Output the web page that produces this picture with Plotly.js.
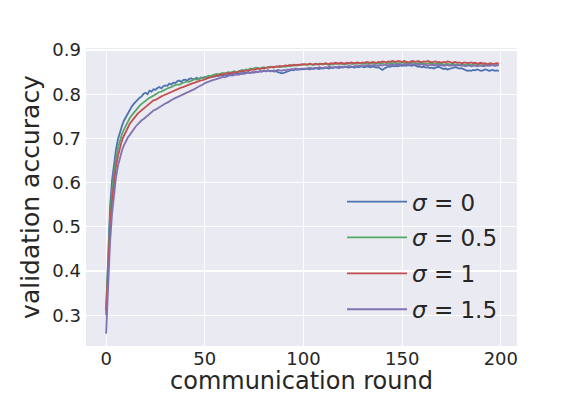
<!DOCTYPE html>
<html>
<head>
<meta charset="utf-8">
<script src="https://cdn.plot.ly/plotly-3.0.1.min.js"></script>
<style>
  body { margin: 0; background: #fff; }
  #chart { width: 576px; height: 396px; }
</style>
</head>
<body>
<div id="chart"></div>
<script>
// validation accuracy per communication round (rounds 0..199)
var seriesNames = ['<i>σ</i> = 0', '<i>σ</i> = 0.5', '<i>σ</i> = 1', '<i>σ</i> = 1.5'];
var seriesColors = ['#4C72B0', '#55A868', '#C44E52', '#8172B2'];

var accSigma0 = [
  0.310, 0.450, 0.545, 0.605, 0.645, 0.675, 0.698, 0.715, 0.728, 0.740,
  0.748, 0.757, 0.766, 0.772, 0.778, 0.783, 0.786, 0.792, 0.795, 0.801,
  0.803, 0.800, 0.808, 0.806, 0.811, 0.810, 0.814, 0.816, 0.813, 0.818,
  0.820, 0.819, 0.824, 0.822, 0.826, 0.825, 0.829, 0.831, 0.828, 0.832,
  0.833, 0.831, 0.834, 0.836, 0.833, 0.835, 0.837, 0.834, 0.838, 0.837,
  0.839, 0.838, 0.840, 0.839, 0.841, 0.840, 0.842, 0.841, 0.843, 0.842,
  0.844, 0.842, 0.845, 0.843, 0.846, 0.845, 0.847, 0.846, 0.848, 0.846,
  0.849, 0.848, 0.850, 0.848, 0.850, 0.849, 0.851, 0.850, 0.852, 0.851,
  0.853, 0.852, 0.854, 0.852, 0.853, 0.851, 0.852, 0.850, 0.848, 0.847,
  0.848, 0.850, 0.852, 0.854, 0.855, 0.854, 0.856, 0.855, 0.857, 0.856,
  0.856, 0.857, 0.858, 0.856, 0.858, 0.857, 0.859, 0.858, 0.857, 0.859,
  0.858, 0.860, 0.859, 0.858, 0.860, 0.859, 0.861, 0.860, 0.859, 0.861,
  0.860, 0.862, 0.861, 0.860, 0.862, 0.861, 0.860, 0.862, 0.861, 0.863,
  0.862, 0.861, 0.863, 0.862, 0.861, 0.863, 0.862, 0.860, 0.861, 0.857,
  0.855, 0.858, 0.861, 0.863, 0.862, 0.864, 0.863, 0.864, 0.863, 0.865,
  0.864, 0.865, 0.864, 0.866, 0.865, 0.864, 0.866, 0.864, 0.862, 0.863,
  0.861, 0.862, 0.860, 0.861, 0.859, 0.860, 0.858, 0.860, 0.862, 0.861,
  0.859, 0.857, 0.858, 0.856, 0.857, 0.859, 0.860, 0.861, 0.860, 0.858,
  0.859, 0.857, 0.855, 0.853, 0.854, 0.853, 0.855, 0.854, 0.856, 0.855,
  0.853, 0.854, 0.856, 0.855, 0.853, 0.854, 0.855, 0.853, 0.854, 0.853
];

var accSigma05 = [
  0.315, 0.430, 0.520, 0.580, 0.625, 0.655, 0.678, 0.696, 0.710, 0.720,
  0.730, 0.738, 0.746, 0.752, 0.758, 0.764, 0.768, 0.774, 0.778, 0.782,
  0.786, 0.788, 0.792, 0.794, 0.797, 0.800, 0.802, 0.805, 0.806, 0.809,
  0.811, 0.813, 0.815, 0.816, 0.819, 0.820, 0.822, 0.821, 0.824, 0.826,
  0.827, 0.829, 0.828, 0.831, 0.832, 0.834, 0.833, 0.835, 0.837, 0.836,
  0.839, 0.840, 0.842, 0.841, 0.843, 0.844, 0.846, 0.845, 0.847, 0.848,
  0.847, 0.849, 0.850, 0.849, 0.851, 0.852, 0.850, 0.852, 0.853, 0.855,
  0.854, 0.856, 0.855, 0.858, 0.857, 0.858, 0.860, 0.859, 0.858, 0.860,
  0.861, 0.859, 0.860, 0.862, 0.861, 0.860, 0.862, 0.863, 0.861, 0.862,
  0.863, 0.862, 0.864, 0.863, 0.865, 0.864, 0.866, 0.865, 0.867, 0.866,
  0.868, 0.867, 0.866, 0.868, 0.867, 0.866, 0.868, 0.867, 0.869, 0.868,
  0.867, 0.869, 0.868, 0.866, 0.868, 0.867, 0.869, 0.868, 0.870, 0.868,
  0.867, 0.869, 0.868, 0.870, 0.869, 0.868, 0.870, 0.869, 0.871, 0.869,
  0.868, 0.870, 0.869, 0.871, 0.870, 0.869, 0.871, 0.870, 0.869, 0.871,
  0.870, 0.872, 0.870, 0.869, 0.871, 0.870, 0.872, 0.871, 0.869, 0.871,
  0.872, 0.870, 0.871, 0.869, 0.870, 0.872, 0.871, 0.869, 0.870, 0.871,
  0.869, 0.870, 0.868, 0.869, 0.871, 0.870, 0.868, 0.869, 0.870, 0.868,
  0.869, 0.867, 0.868, 0.869, 0.867, 0.868, 0.869, 0.867, 0.868, 0.866,
  0.867, 0.868, 0.866, 0.867, 0.868, 0.866, 0.867, 0.865, 0.866, 0.867,
  0.865, 0.866, 0.867, 0.865, 0.866, 0.867, 0.866, 0.865, 0.866, 0.867
];

var accSigma1 = [
  0.300, 0.410, 0.500, 0.560, 0.605, 0.637, 0.660, 0.680, 0.695, 0.706,
  0.716, 0.725, 0.733, 0.739, 0.745, 0.751, 0.756, 0.760, 0.764, 0.768,
  0.772, 0.775, 0.780, 0.782, 0.786, 0.787, 0.790, 0.793, 0.795, 0.797,
  0.799, 0.801, 0.804, 0.805, 0.808, 0.809, 0.811, 0.813, 0.815, 0.816,
  0.818, 0.820, 0.821, 0.823, 0.825, 0.826, 0.828, 0.829, 0.831, 0.832,
  0.834, 0.835, 0.837, 0.838, 0.839, 0.841, 0.842, 0.843, 0.845, 0.844,
  0.846, 0.847, 0.848, 0.847, 0.849, 0.850, 0.849, 0.851, 0.852, 0.851,
  0.853, 0.854, 0.853, 0.855, 0.856, 0.855, 0.857, 0.858, 0.857, 0.859,
  0.858, 0.860, 0.861, 0.860, 0.862, 0.861, 0.863, 0.862, 0.864, 0.863,
  0.864, 0.865, 0.864, 0.866, 0.865, 0.867, 0.866, 0.867, 0.866, 0.868,
  0.867, 0.868, 0.867, 0.869, 0.868, 0.867, 0.869, 0.868, 0.867, 0.869,
  0.868, 0.870, 0.869, 0.868, 0.870, 0.869, 0.871, 0.870, 0.869, 0.871,
  0.870, 0.869, 0.871, 0.870, 0.872, 0.871, 0.870, 0.872, 0.871, 0.870,
  0.872, 0.871, 0.873, 0.872, 0.871, 0.873, 0.872, 0.871, 0.873, 0.872,
  0.874, 0.873, 0.872, 0.874, 0.873, 0.875, 0.874, 0.873, 0.875, 0.874,
  0.873, 0.875, 0.874, 0.872, 0.873, 0.875, 0.874, 0.873, 0.875, 0.874,
  0.872, 0.874, 0.873, 0.875, 0.874, 0.872, 0.873, 0.874, 0.872, 0.873,
  0.871, 0.873, 0.872, 0.874, 0.873, 0.871, 0.872, 0.873, 0.871, 0.872,
  0.870, 0.871, 0.872, 0.870, 0.871, 0.872, 0.870, 0.871, 0.869, 0.870,
  0.871, 0.869, 0.870, 0.868, 0.869, 0.870, 0.868, 0.869, 0.870, 0.869
];

var accSigma15 = [
  0.258, 0.370, 0.465, 0.530, 0.578, 0.612, 0.638, 0.657, 0.672, 0.684,
  0.694, 0.702, 0.708, 0.715, 0.721, 0.727, 0.732, 0.737, 0.741, 0.744,
  0.748, 0.752, 0.756, 0.759, 0.763, 0.765, 0.768, 0.771, 0.774, 0.776,
  0.779, 0.781, 0.784, 0.786, 0.789, 0.791, 0.793, 0.795, 0.797, 0.800,
  0.801, 0.804, 0.806, 0.808, 0.810, 0.812, 0.815, 0.817, 0.820, 0.822,
  0.825, 0.827, 0.829, 0.830, 0.832, 0.833, 0.835, 0.836, 0.837, 0.839,
  0.838, 0.840, 0.841, 0.843, 0.842, 0.844, 0.845, 0.844, 0.846, 0.847,
  0.846, 0.848, 0.849, 0.848, 0.850, 0.849, 0.851, 0.850, 0.852, 0.851,
  0.853, 0.852, 0.854, 0.853, 0.852, 0.854, 0.853, 0.855, 0.854, 0.853,
  0.855, 0.854, 0.856, 0.855, 0.857, 0.856, 0.858, 0.857, 0.856, 0.858,
  0.858, 0.859, 0.858, 0.860, 0.859, 0.858, 0.860, 0.859, 0.861, 0.860,
  0.859, 0.861, 0.860, 0.862, 0.861, 0.860, 0.862, 0.861, 0.863, 0.862,
  0.861, 0.863, 0.862, 0.864, 0.863, 0.862, 0.864, 0.863, 0.865, 0.864,
  0.863, 0.865, 0.864, 0.866, 0.865, 0.864, 0.866, 0.865, 0.864, 0.866,
  0.865, 0.867, 0.866, 0.865, 0.867, 0.866, 0.868, 0.867, 0.866, 0.868,
  0.867, 0.866, 0.868, 0.867, 0.869, 0.868, 0.867, 0.868, 0.866, 0.867,
  0.868, 0.866, 0.867, 0.865, 0.866, 0.867, 0.865, 0.866, 0.867, 0.865,
  0.866, 0.864, 0.865, 0.866, 0.864, 0.865, 0.866, 0.864, 0.865, 0.866,
  0.864, 0.865, 0.863, 0.864, 0.865, 0.863, 0.864, 0.865, 0.863, 0.864,
  0.865, 0.863, 0.864, 0.865, 0.864, 0.865, 0.866, 0.864, 0.865, 0.866
];

var xTicks = [0, 50, 100, 150, 200];
var yTicks = [0.3, 0.4, 0.5, 0.6, 0.7, 0.8, 0.9];

var allSeries = [accSigma0, accSigma05, accSigma1, accSigma15];

// one line trace per sigma, x is the round index (x0 = 0, dx = 1)
var data = allSeries.map(function (vals, i) {
    return {
        type: 'scatter',
        mode: 'lines',
        y: vals,
        x0: 0,
        dx: 1,
        name: seriesNames[i],
        legendgroup: 'g' + i,
        line: { color: seriesColors[i], width: 1.8 }
    };
});

var tickFont = { family: 'DejaVu Sans', size: 18, color: '#262626' };
var labelFont = { family: 'DejaVu Sans', size: 25, color: '#262626' };

var layout = {
    width: 576,
    height: 396,
    margin: { l: 86, r: 59, t: 48, b: 50 },
    paper_bgcolor: '#ffffff',
    plot_bgcolor: '#EAEAF2',
    font: { family: 'DejaVu Sans', color: '#262626' },
    showlegend: true,
    legend: {
        x: 0.594,
        y: 0.050,
        xanchor: 'left',
        yanchor: 'bottom',
        bgcolor: 'rgba(0,0,0,0)',
        font: { family: 'DejaVu Sans', size: 23, color: '#262626' },
        tracegroupgap: 3,
        itemwidth: 60
    },
    // x title sits low in the bottom margin, so it is drawn as an annotation
    annotations: [{
        text: 'communication round',
        xref: 'paper', yref: 'paper',
        x: 0.5, y: -0.1678,
        xanchor: 'center', yanchor: 'bottom',
        borderpad: 0,
        showarrow: false,
        font: { family: 'DejaVu Sans', size: 24, color: '#262626' }
    }],
    xaxis: {
        range: [-10.2, 208.2],
        tickvals: xTicks,
        ticktext: xTicks.map(String),
        showgrid: true,
        gridcolor: '#ffffff',
        gridwidth: 1.2,
        zeroline: false,
        showline: false,
        ticks: '',
        tickfont: tickFont
    },
    yaxis: {
        range: [0.2303, 0.9045],
        tickvals: yTicks,
        ticktext: yTicks.map(function (v) { return v.toFixed(1); }),
        showgrid: true,
        gridcolor: '#ffffff',
        gridwidth: 1.2,
        zeroline: false,
        showline: false,
        ticks: '',
        ticklabelstandoff: 4,
        tickfont: tickFont,
        title: { text: 'validation accuracy', font: labelFont, standoff: 5 }
    }
};

Plotly.newPlot('chart', data, layout, { displayModeBar: false, staticPlot: true });
</script>
</body>
</html>
